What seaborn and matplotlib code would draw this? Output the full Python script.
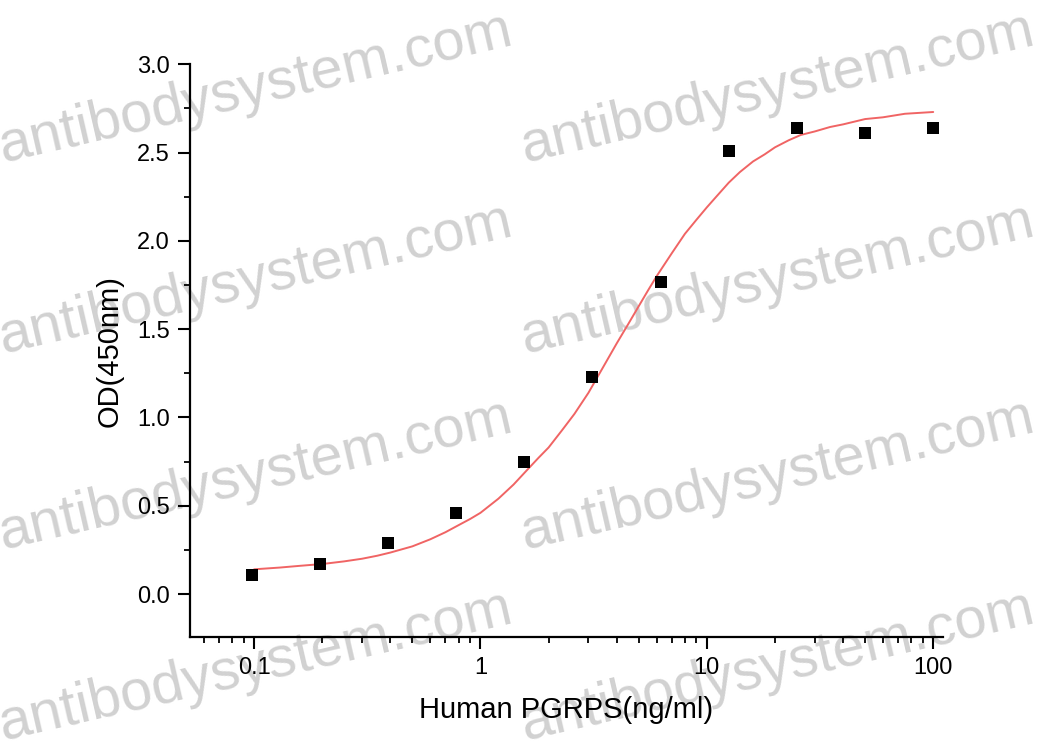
import numpy as np
import pandas as pd
import seaborn as sns
import matplotlib.pyplot as plt
from matplotlib.ticker import LogLocator, MultipleLocator, FixedLocator, FixedFormatter

# measured points (concentration ng/ml, OD450)
conc = [0.098, 0.195, 0.39, 0.78, 1.56, 3.125, 6.25, 12.5, 25, 50, 100]
od = [0.11, 0.17, 0.29, 0.46, 0.75, 1.23, 1.77, 2.51, 2.64, 2.61, 2.64]

# fitted curve
fit_x = [0.1, 0.13, 0.16, 0.2, 0.25, 0.3, 0.35, 0.4, 0.5, 0.6, 0.7, 0.8, 0.9, 1.0,
         1.2, 1.4, 1.6, 1.8, 2.0, 2.3, 2.6, 3.0, 3.5, 4.0, 4.5, 5.0, 5.5, 6.0, 7.0,
         8.0, 9.0, 10, 11, 12.5, 14, 16, 18, 20, 23, 26, 30, 35, 40, 50, 60, 75, 100]
fit_y = [0.14, 0.15, 0.16, 0.17, 0.185, 0.20, 0.217, 0.235, 0.27, 0.31, 0.35, 0.39,
         0.425, 0.46, 0.54, 0.62, 0.70, 0.77, 0.83, 0.93, 1.02, 1.14, 1.29, 1.42,
         1.53, 1.63, 1.72, 1.80, 1.93, 2.04, 2.12, 2.19, 2.25, 2.33, 2.39, 2.45,
         2.49, 2.53, 2.57, 2.60, 2.62, 2.645, 2.66, 2.69, 2.70, 2.72, 2.73]

x_ticks = [0.1, 1, 10, 100]
x_ticklabels = ["0.1", "1", "10", "100"]
watermark = "antibodysystem.com"

sns.set_style("ticks")
plt.rcParams["font.family"] = ["Liberation Sans", "DejaVu Sans"]
plt.rcParams["text.color"] = "black"
plt.rcParams["axes.labelcolor"] = "black"
plt.rcParams["xtick.color"] = "black"
plt.rcParams["ytick.color"] = "black"

fig = plt.figure(figsize=(10.45, 7.48), dpi=100)
ax = fig.add_axes([0.182, 0.148, 0.720, 0.766])
ax.set_facecolor("none")
ax.set_xscale("log")

pts = pd.DataFrame({"conc": conc, "od": od})
fit = pd.DataFrame({"x": fit_x, "y": fit_y})

sns.lineplot(data=fit, x="x", y="y", ax=ax, color="#f06464", linewidth=1.4,
             sort=False, zorder=2)
sns.scatterplot(data=pts, x="conc", y="od", ax=ax, marker="s", s=80,
                color="black", edgecolor="black", linewidth=0, zorder=3)

ax.set_xlim(0.0522, 110)
ax.set_ylim(-0.245, 3.0)

ax.xaxis.set_major_locator(FixedLocator(x_ticks))
ax.xaxis.set_major_formatter(FixedFormatter(x_ticklabels))
ax.xaxis.set_minor_locator(LogLocator(base=10, subs=np.arange(2, 10)))
ax.yaxis.set_major_locator(MultipleLocator(0.5))
ax.yaxis.set_minor_locator(MultipleLocator(0.25))
ax.yaxis.set_major_formatter(plt.FuncFormatter(lambda v, p: f"{v:.1f}"))

ax.tick_params(which="major", direction="out", length=8.5, width=1.5,
               labelsize=17, pad=6, color="black", labelcolor="black")
ax.tick_params(which="minor", direction="out", length=4.5, width=1.3, color="black")

for side in ["top", "right"]:
    ax.spines[side].set_visible(False)
for side in ["left", "bottom"]:
    ax.spines[side].set_linewidth(1.6)
    ax.spines[side].set_color("black")

ax.set_xlabel("Human PGRPS(ng/ml)", fontsize=21, labelpad=12)
ax.set_ylabel("OD(450nm)", fontsize=21, labelpad=10)

# watermark rows
for px in [3, 525]:
    for py in [162, 353, 549, 740]:
        fig.text(px / 1045, 1 - py / 748, watermark, fontsize=41.5, color="#c6c6c6",
                 rotation=13, rotation_mode="anchor", ha="left", va="baseline",
                 alpha=0.8, zorder=-1)

fig.savefig("out.png", dpi=100)
